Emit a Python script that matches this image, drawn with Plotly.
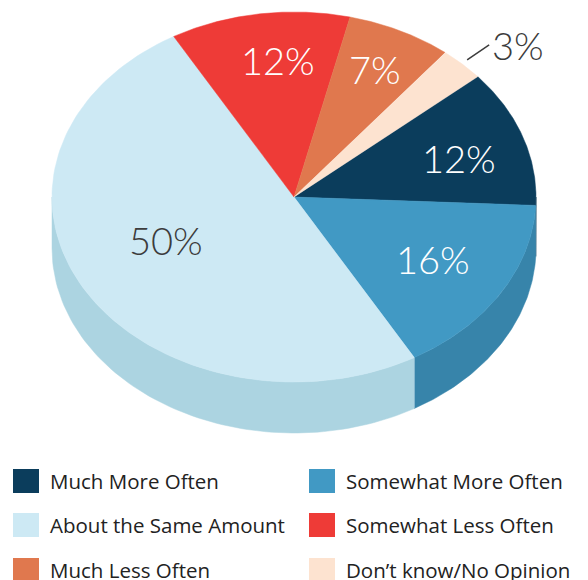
import numpy as np
import plotly.graph_objects as go

# ---- data ----
categories = ["Much More Often", "Somewhat More Often", "About the Same Amount",
              "Somewhat Less Often", "Much Less Often", "Don’t know/No Opinion"]
values = [12, 16, 50, 12, 7, 3]
labels = ["12%", "16%", "50%", "12%", "7%", "3%"]

# ---- style ----
top_colors = ["#0b3d5c", "#4199c4", "#cde9f4", "#ee3b37", "#e0784e", "#fde3d0"]
side_colors = ["#082f47", "#3784aa", "#acd4e1", "#c42e2b", "#b96040", "#e0c4b0"]
label_colors = ["white", "white", "#3c3c3c", "white", "white", "#3c3c3c"]
label_frac = [0.714, 0.665, 0.578, 0.744, 0.769, None]
label_dt = [-1.8, 1.1, -6.1, -3.1, 0.2, 0.0]
FONT = "Lato"
LEGEND_FONT = "Open Sans"

W, H = 588, 580
OFF = 8  # page margin around the plot div
cx, cy, rx, ry, depth = 294, 197, 242, 185, 51
start_deg = 40.6  # first slice starts here, slices go clockwise

total = sum(values)
bounds = [start_deg]
for v in values:
    bounds.append(bounds[-1] - 360.0 * v / total)


def pt(t_deg, f=1.0, dz=0.0):
    t = np.radians(t_deg)
    return cx + rx * f * np.cos(t), cy - ry * f * np.sin(t) + dz


fig = go.Figure()

# side walls (only the front half, angles between -180 and 0, is visible)
for i, (a0, a1) in enumerate(zip(bounds[:-1], bounds[1:])):
    for shift in (0, 360, -360):
        h, l = a0 + shift, a1 + shift
        s_hi, s_lo = min(h, 0), max(l, -180)
        if s_hi > s_lo:
            ts = np.linspace(s_hi, s_lo, 80)
            xt, yt = pt(ts)
            xb, yb = pt(ts[::-1], dz=depth)
            xs = np.concatenate([xt, xb, xt[:1]])
            ys = np.concatenate([yt, yb, yt[:1]])
            fig.add_trace(go.Scatter(x=xs, y=ys, mode="lines", fill="toself",
                                     fillcolor=side_colors[i], line=dict(width=0.5, color=side_colors[i]),
                                     hoverinfo="skip", showlegend=False))

# top face slices
for i, (a0, a1) in enumerate(zip(bounds[:-1], bounds[1:])):
    ts = np.linspace(a0, a1, 120)
    xa, ya = pt(ts)
    xs = np.concatenate([[cx], xa, [cx]])
    ys = np.concatenate([[cy], ya, [cy]])
    fig.add_trace(go.Scatter(x=xs, y=ys, mode="lines", fill="toself",
                             fillcolor=top_colors[i], line=dict(width=0.5, color=top_colors[i]),
                             name=categories[i], text=f"{categories[i]}: {values[i]}%",
                             hoverinfo="text", showlegend=False))

# percentage labels
for i, (a0, a1) in enumerate(zip(bounds[:-1], bounds[1:])):
    mid = (a0 + a1) / 2 + label_dt[i]
    if label_frac[i] is not None:
        x, y = pt(mid, label_frac[i])
        fig.add_annotation(x=x, y=y, text=labels[i], showarrow=False,
                           font=dict(family=FONT, size=38, color=label_colors[i], weight=300))
    else:
        x0, y0 = pt(mid, 1.03)
        x1, y1 = x0 + 22, y0 - 15
        fig.add_shape(type="line", x0=x0, y0=y0, x1=x1, y1=y1,
                      line=dict(color="#3c3c3c", width=1.5))
        fig.add_annotation(x=x1 + 1, y=y1, text=labels[i], showarrow=False, xanchor="left",
                           font=dict(family=FONT, size=38, color=label_colors[i], weight=300))

# legend (two columns)
col_x = [13, 309]
row_y = [481, 525, 570]
sq_w, sq_h = 26, 24
for i, cat in enumerate(categories):
    c, r = i % 2, i // 2
    x0, y0 = col_x[c], row_y[r]
    fig.add_shape(type="rect", x0=x0, x1=x0 + sq_w, y0=y0 - sq_h / 2, y1=y0 + sq_h / 2,
                  fillcolor=top_colors[i], line=dict(width=0))
    fig.add_annotation(x=x0 + sq_w + 9, y=y0, text=cat, showarrow=False, xanchor="left",
                       font=dict(family=LEGEND_FONT, size=20.5, color="#222222"))

fig.update_xaxes(range=[OFF, W + OFF], visible=False, fixedrange=True)
fig.update_yaxes(range=[H + OFF, OFF], visible=False, fixedrange=True)
fig.update_layout(width=W, height=H, margin=dict(l=0, r=0, t=0, b=0),
                  paper_bgcolor="white", plot_bgcolor="white", showlegend=False)

fig.write_html("out.html")
